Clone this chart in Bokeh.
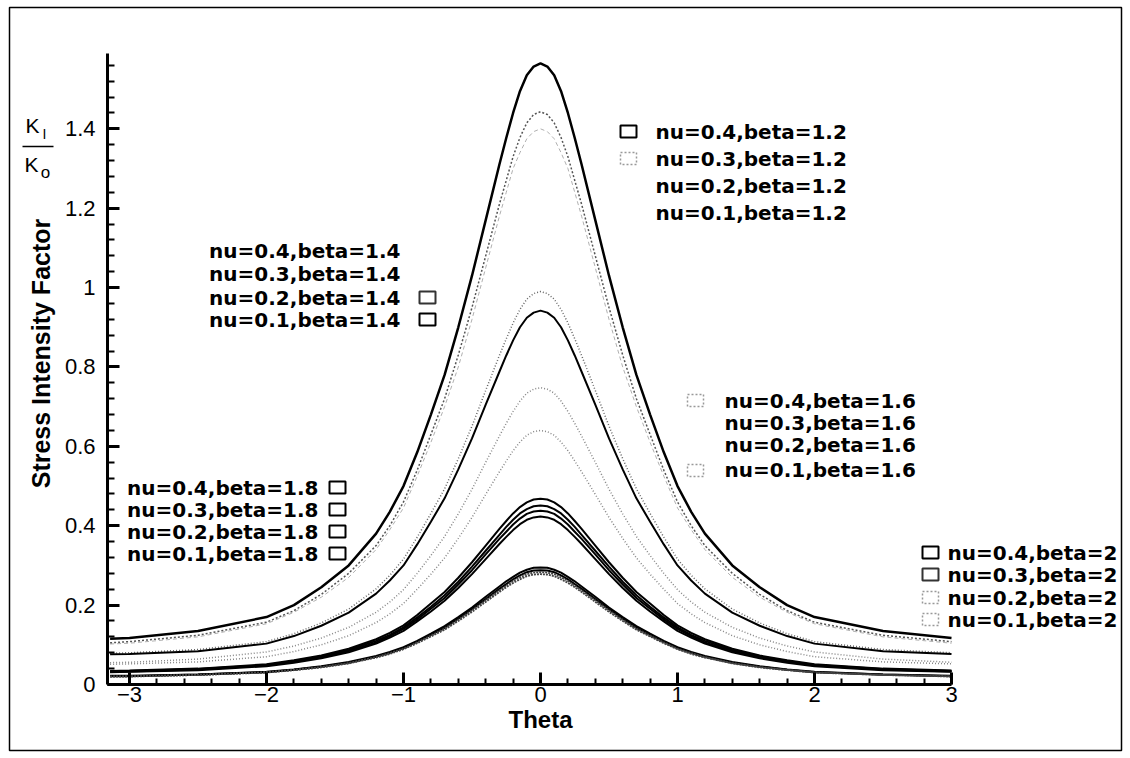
import math
from bokeh.plotting import figure
from bokeh.models import Range1d, FixedTicker, Label, PolyAnnotation
from bokeh.embed import file_html
from bokeh.resources import INLINE

# theta sample points for theta >= 0 (curves are symmetric about theta = 0)
theta_half = [0, 0.05, 0.1, 0.15, 0.2, 0.25, 0.3, 0.4, 0.5, 0.6, 0.7, 0.8, 0.9, 1.0, 1.1, 1.2,
              1.4, 1.6, 1.8, 2.0, 2.5, 3.0, 3.1416]

# K_I/K_o at the points above
nu04_b12 = [1.565, 1.557, 1.535, 1.495, 1.44, 1.377, 1.31, 1.17, 1.03, 0.90, 0.78, 0.68, 0.585, 0.50, 0.435, 0.38, 0.30, 0.245, 0.20, 0.17, 0.135, 0.117, 0.115]
nu03_b12 = [1.443, 1.436, 1.415, 1.378, 1.33, 1.27, 1.21, 1.08, 0.95, 0.83, 0.72, 0.63, 0.54, 0.46, 0.40, 0.35, 0.28, 0.227, 0.186, 0.157, 0.124, 0.108, 0.105]
nu02_b12 = [1.40, 1.393, 1.375, 1.34, 1.30, 1.24, 1.18, 1.05, 0.92, 0.80, 0.70, 0.61, 0.525, 0.445, 0.39, 0.34, 0.27, 0.22, 0.182, 0.153, 0.12, 0.104, 0.102]
nu02_b14 = [0.99, 0.985, 0.971, 0.945, 0.911, 0.871, 0.829, 0.741, 0.651, 0.569, 0.493, 0.431, 0.371, 0.316, 0.275, 0.241, 0.19, 0.155, 0.128, 0.108, 0.088, 0.08, 0.079]
nu01_b14 = [0.942, 0.937, 0.924, 0.90, 0.867, 0.829, 0.788, 0.705, 0.62, 0.542, 0.469, 0.41, 0.353, 0.30, 0.262, 0.229, 0.181, 0.148, 0.122, 0.103, 0.084, 0.077, 0.076]
nu04_b16 = [0.748, 0.744, 0.734, 0.714, 0.688, 0.658, 0.626, 0.56, 0.492, 0.43, 0.373, 0.325, 0.28, 0.239, 0.208, 0.182, 0.144, 0.117, 0.097, 0.082, 0.064, 0.056, 0.055]
nu01_b16 = [0.64, 0.637, 0.628, 0.611, 0.589, 0.563, 0.536, 0.479, 0.421, 0.368, 0.319, 0.278, 0.24, 0.204, 0.178, 0.156, 0.123, 0.10, 0.083, 0.07, 0.057, 0.052, 0.051]
nu04_b18 = [0.468, 0.466, 0.459, 0.447, 0.431, 0.412, 0.392, 0.35, 0.308, 0.269, 0.233, 0.204, 0.175, 0.149, 0.13, 0.114, 0.09, 0.073, 0.061, 0.051, 0.04, 0.035, 0.034]
nu03_b18 = [0.451, 0.449, 0.442, 0.431, 0.415, 0.397, 0.377, 0.337, 0.297, 0.259, 0.225, 0.196, 0.169, 0.144, 0.125, 0.11, 0.087, 0.071, 0.059, 0.049, 0.039, 0.034, 0.033]
nu02_b18 = [0.438, 0.436, 0.43, 0.418, 0.403, 0.385, 0.367, 0.328, 0.288, 0.252, 0.218, 0.191, 0.164, 0.14, 0.122, 0.106, 0.084, 0.069, 0.057, 0.048, 0.038, 0.033, 0.032]
nu01_b18 = [0.423, 0.421, 0.415, 0.404, 0.389, 0.372, 0.354, 0.316, 0.278, 0.243, 0.211, 0.184, 0.159, 0.135, 0.118, 0.103, 0.081, 0.066, 0.055, 0.046, 0.036, 0.032, 0.031]
nu04_b20 = [0.295, 0.294, 0.289, 0.282, 0.271, 0.26, 0.247, 0.221, 0.194, 0.17, 0.147, 0.128, 0.11, 0.094, 0.082, 0.072, 0.057, 0.046, 0.038, 0.032, 0.025, 0.022, 0.022]
nu03_b20 = [0.288, 0.287, 0.283, 0.275, 0.265, 0.253, 0.241, 0.215, 0.19, 0.166, 0.143, 0.125, 0.108, 0.092, 0.08, 0.07, 0.055, 0.045, 0.037, 0.031, 0.025, 0.021, 0.021]
nu02_b20 = [0.283, 0.282, 0.278, 0.27, 0.261, 0.249, 0.237, 0.212, 0.187, 0.163, 0.141, 0.123, 0.106, 0.09, 0.079, 0.069, 0.054, 0.044, 0.037, 0.031, 0.024, 0.021, 0.02]
nu01_b20 = [0.278, 0.277, 0.273, 0.265, 0.256, 0.245, 0.233, 0.208, 0.183, 0.16, 0.138, 0.121, 0.104, 0.089, 0.077, 0.068, 0.053, 0.043, 0.036, 0.03, 0.024, 0.02, 0.02]

x_ticks = [-3, -2, -1, 0, 1, 2, 3]
y_ticks = [0, 0.2, 0.4, 0.6, 0.8, 1, 1.2, 1.4]
y_tick_labels = ["0", "0.2", "0.4", "0.6", "0.8", "1", "1.2", "1.4"]

legend_b12 = ["nu=0.4,beta=1.2", "nu=0.3,beta=1.2", "nu=0.2,beta=1.2", "nu=0.1,beta=1.2"]
legend_b14 = ["nu=0.4,beta=1.4", "nu=0.3,beta=1.4", "nu=0.2,beta=1.4", "nu=0.1,beta=1.4"]
legend_b16 = ["nu=0.4,beta=1.6", "nu=0.3,beta=1.6", "nu=0.2,beta=1.6", "nu=0.1,beta=1.6"]
legend_b18 = ["nu=0.4,beta=1.8", "nu=0.3,beta=1.8", "nu=0.2,beta=1.8", "nu=0.1,beta=1.8"]
legend_b20 = ["nu=0.4,beta=2", "nu=0.3,beta=2", "nu=0.2,beta=2", "nu=0.1,beta=2"]

X_MIN, X_AXIS_MAX = -3.16, 3.0
Y_MIN, Y_AXIS_MAX = 0.0, 1.59
W, H = 1130, 758

# pixel helpers: theta = 0 at x px 540 (137 px per unit), K = 0 at y px 684 (396.9 px per unit)
def px(x):
    return (x - 540) / 137.0

def py(y):
    return (684 - y) / 396.9

# the frame covers the whole canvas; the axes are pinned at the data origin corner
p = figure(width=W, height=H, x_range=Range1d(px(0), px(W)), y_range=Range1d(py(H), py(0)),
           output_backend="svg", toolbar_location=None,
           min_border_left=0, min_border_right=0, min_border_top=0, min_border_bottom=0)
p.grid.visible = False
p.outline_line_color = None
p.background_fill_color = "white"
p.border_fill_color = "white"

for ax in (p.xaxis[0], p.yaxis[0]):
    ax.axis_line_width = 3
    ax.axis_line_color = "black"
    ax.major_tick_line_width = 3
    ax.minor_tick_line_width = 2
    ax.major_tick_out = 0
    ax.minor_tick_out = 0
    ax.major_label_text_font = "Liberation Sans"
    ax.major_label_text_font_size = "22px"
    ax.major_label_text_color = "black"

p.xaxis.fixed_location = Y_MIN
p.xaxis.bounds = (X_MIN, X_AXIS_MAX)
p.xaxis.ticker = FixedTicker(ticks=x_ticks, minor_ticks=[round(-3 + 0.2 * i, 1) for i in range(31)])
p.xaxis.major_tick_in = 12
p.xaxis.minor_tick_in = 6
p.xaxis.major_label_standoff = 2

p.yaxis.fixed_location = X_MIN
p.yaxis.bounds = (Y_MIN, Y_AXIS_MAX)
p.yaxis.ticker = FixedTicker(ticks=y_ticks, minor_ticks=[round(0.04 * i, 2) for i in range(40)])
p.yaxis.major_label_overrides = {t: s for t, s in zip(y_ticks, y_tick_labels)}
p.yaxis.major_tick_in = 12
p.yaxis.minor_tick_in = 7
p.yaxis.major_label_standoff = 12

def full(vals):
    xs = [-t for t in reversed(theta_half[1:])] + theta_half
    ys = list(reversed(vals[1:])) + vals
    keep = [i for i, x in enumerate(xs) if x <= X_AXIS_MAX]
    return [xs[i] for i in keep], [ys[i] for i in keep]

curves = [
    (nu02_b12, "#b0b0b0", 1.0, "4 3"),
    (nu03_b12, "#555555", 1.5, "2 2"),
    (nu04_b12, "black", 2.5, "solid"),
    (nu02_b14, "#666666", 1.5, "1 2"),
    (nu01_b14, "black", 2.0, "solid"),
    (nu04_b16, "#888888", 1.5, "1 2"),
    (nu01_b16, "#888888", 1.5, "1 2"),
    (nu04_b18, "black", 2.0, "solid"),
    (nu03_b18, "black", 2.0, "solid"),
    (nu02_b18, "black", 2.0, "solid"),
    (nu01_b18, "black", 2.0, "solid"),
    (nu04_b20, "black", 2.0, "solid"),
    (nu03_b20, "black", 2.0, "solid"),
    (nu02_b20, "#444444", 1.8, "2 1"),
    (nu01_b20, "#444444", 1.8, "2 1"),
]
for vals, col, w, dash in curves:
    xs, ys = full(vals)
    p.line(xs, ys, line_color=col, line_width=w, line_dash=dash)

FONT = "DejaVu Sans"

def lab(text, x, y, align="left", size="20px", bold=True, font=FONT, angle=0.0):
    p.add_layout(Label(x=px(x), y=py(y), text=text, text_align=align, text_baseline="middle",
                       text_font=font, text_font_size=size, angle=angle,
                       text_font_style="bold" if bold else "normal", text_color="black"))

def box(x, y, color="black", dash="solid"):
    p.rect([px(x)], [py(y)], width=16, height=12, width_units="screen", height_units="screen",
           fill_color=None, line_color=color, line_width=2 if dash == "solid" else 1.5, line_dash=dash)

# axis titles
lab("Theta", 540, 719, align="center", size="24px", font="Liberation Sans")
lab("Stress Intensity Factor", 40, 353, align="center", size="25px", font="Liberation Sans",
    angle=math.pi / 2)

# beta = 1.2 group
for t, yy in zip(legend_b12, [131, 158, 185, 212]):
    lab(t, 655, yy)
box(628, 131)
box(628, 158, "#999999", "2 2")

# beta = 1.4 group
for t, yy in zip(legend_b14, [250, 273, 297, 319]):
    lab(t, 400, yy, align="right")
box(427, 297, "#333333")
box(427, 319)

# beta = 1.6 group
for t, yy in zip(legend_b16, [400, 422, 444, 469]):
    lab(t, 724, yy)
box(695, 400, "#999999", "2 2")
box(695, 470, "#999999", "2 2")

# beta = 1.8 group
for t, yy in zip(legend_b18, [487, 509, 531, 553]):
    lab(t, 318, yy, align="right")
    box(337, yy)

# beta = 2 group
for t, yy, c, d in zip(legend_b20, [552, 574, 597, 619],
                       ["black", "#333333", "#999999", "#999999"], ["solid", "solid", "2 2", "2 2"]):
    lab(t, 947, yy)
    box(930, yy, c, d)

# K_I / K_o unit label
lab("K", 32, 125, align="center", size="21px", bold=False, font="Liberation Sans")
lab("I", 44, 133, align="center", size="14px", bold=False, font="Liberation Sans")
p.add_layout(PolyAnnotation(xs=[px(22), px(53)], ys=[py(146), py(146)],
                            fill_alpha=0, line_color="black", line_alpha=1.0, line_width=1.5))
lab("K", 31, 164, align="center", size="21px", bold=False, font="Liberation Sans")
lab("o", 45, 172, align="center", size="17px", bold=False, font="Liberation Sans")

# outer frame of the picture
p.add_layout(PolyAnnotation(xs=[px(9), px(1121), px(1121), px(9)], ys=[py(7), py(7), py(750), py(750)],
                            fill_alpha=0, line_color="black", line_alpha=1.0, line_width=1.5))

open("out.html", "w").write(file_html(p, INLINE))
